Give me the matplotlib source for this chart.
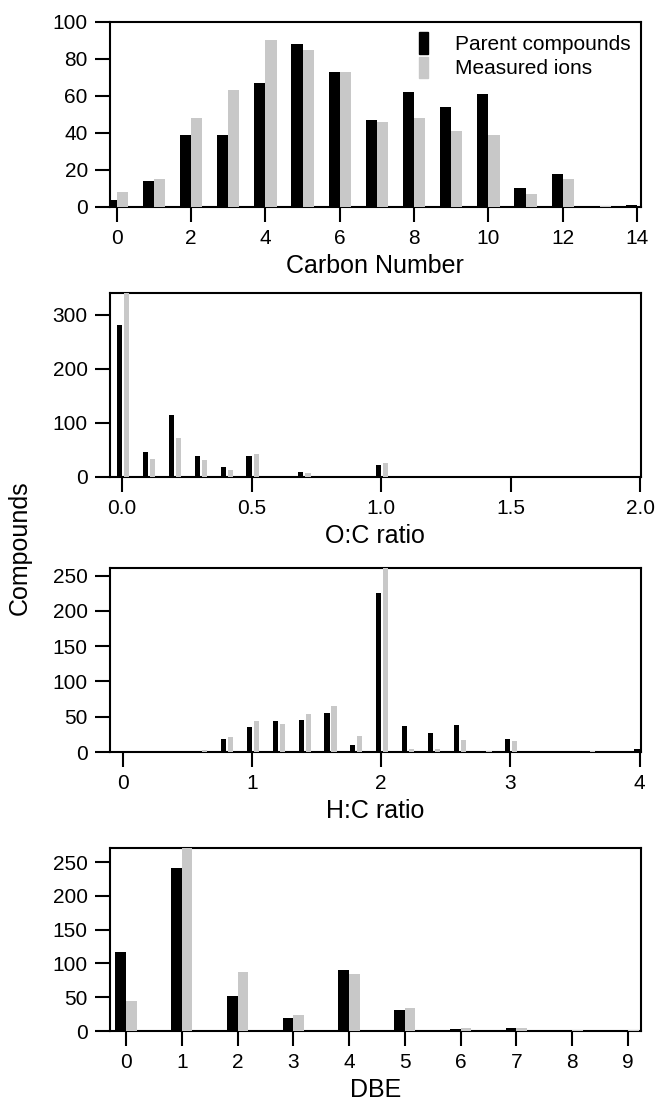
import matplotlib
matplotlib.use("Agg")
import matplotlib.pyplot as plt
from matplotlib.patches import Rectangle

plt.rcParams['font.family'] = ['Liberation Sans', 'DejaVu Sans']

# carbon number distribution
carbon_n = [0, 1, 2, 3, 4, 5, 6, 7, 8, 9, 10, 11, 12, 13, 14]
carbon_parent = [4, 14, 39, 39, 67, 88, 73, 47, 62, 54, 61, 10, 18, 0, 1]
carbon_ions = [8, 15, 48, 63, 90, 85, 73, 46, 48, 41, 39, 7, 15, 0.5, 0]

# O:C ratio
oc_bins = [0.0, 0.1, 0.2, 0.3, 0.4, 0.5, 0.6, 0.7, 0.8, 0.9, 1.0,
           1.1, 1.2, 1.3, 1.4, 1.5, 1.6, 1.7, 1.8, 1.9, 2.0]
oc_parent = [281, 46, 114, 39, 18, 38, 0, 9, 0, 0, 22, 0, 0, 0, 0, 0, 0, 0, 0, 0, 2]
oc_ions = [370, 34, 72, 31, 12, 43, 0, 7, 0, 0, 26, 0, 0, 0, 0, 0, 0, 0, 0, 0, 3]

# H:C ratio
hc_bins = [0.0, 0.2, 0.4, 0.6, 0.8, 1.0, 1.2, 1.4, 1.6, 1.8, 2.0,
           2.2, 2.4, 2.6, 2.8, 3.0, 3.2, 3.4, 3.6, 3.8, 4.0]
hc_parent = [0, 0, 0, 2, 18, 35, 44, 46, 56, 10, 225, 37, 27, 38, 1, 19, 0, 0, 0, 0, 4]
hc_ions = [0, 0, 0, 3, 21, 44, 40, 54, 65, 22, 300, 4, 4, 17, 1, 16, 0, 0, 1, 0, 0]

# double bond equivalents
dbe_n = [0, 1, 2, 3, 4, 5, 6, 7, 8, 9]
dbe_parent = [117, 241, 52, 20, 90, 31, 2.5, 4, 1, 1]
dbe_ions = [44, 290, 88, 23, 85, 34, 4.5, 4, 1, 1]

BLACK = 'black'
GRAY = '#c8c8c8'
TICK_FS = 15
LABEL_FS = 18

fig = plt.figure(figsize=(6.57, 11.02), dpi=100)

left, width = 0.1674, 0.808
ax1 = fig.add_axes([left, 0.8122, width, 0.1679])
ax2 = fig.add_axes([left, 0.5672, width, 0.1670])
ax3 = fig.add_axes([left, 0.3176, width, 0.1670])
ax4 = fig.add_axes([left, 0.0644, width, 0.1662])


def style(ax):
    for s in ax.spines.values():
        s.set_linewidth(1.5)
    ax.tick_params(direction='out', length=11, width=1.5, labelsize=TICK_FS,
                   pad=5, top=False, right=False)


def pair(ax, x, a, b, w, off):
    xa = [v - w for v in x]
    xb = [v + off for v in x]
    ax.bar(xa, a, width=w, align='edge', color=BLACK, zorder=3)
    ax.bar(xb, b, width=w, align='edge', color=GRAY, zorder=3)


pair(ax1, carbon_n, carbon_parent, carbon_ions, 0.3, 0.0)
ax1.set_xlim(-0.18, 14.1)
ax1.set_ylim(0, 100)
ax1.set_xticks(range(0, 15, 2))
ax1.set_yticks(range(0, 101, 20))
ax1.set_xlabel('Carbon Number', fontsize=LABEL_FS, labelpad=4)
handles = [Rectangle((0, 0), 1, 1, color=BLACK), Rectangle((0, 0), 1, 1, color=GRAY)]
ax1.legend(handles, ['Parent compounds', 'Measured ions'], loc='upper right',
           frameon=False, fontsize=TICK_FS, handlelength=0.4, handleheight=1.2,
           handletextpad=1.3, labelspacing=0.12, borderaxespad=0.1)

pair(ax2, oc_bins, oc_parent, oc_ions, 0.02, 0.008)
ax2.set_xlim(-0.047, 2.003)
ax2.set_ylim(0, 340)
ax2.set_xticks([0, 0.5, 1.0, 1.5, 2.0])
ax2.set_xticklabels(['0.0', '0.5', '1.0', '1.5', '2.0'])
ax2.set_yticks([0, 100, 200, 300])
ax2.set_xlabel('O:C ratio', fontsize=LABEL_FS, labelpad=4)

pair(ax3, hc_bins, hc_parent, hc_ions, 0.04, 0.015)
ax3.set_xlim(-0.1, 4.01)
ax3.set_ylim(0, 261)
ax3.set_xticks([0, 1, 2, 3, 4])
ax3.set_yticks(range(0, 251, 50))
ax3.set_xlabel('H:C ratio', fontsize=LABEL_FS, labelpad=4)

pair(ax4, dbe_n, dbe_parent, dbe_ions, 0.19, 0.0)
ax4.set_xlim(-0.286, 9.23)
ax4.set_ylim(0, 271)
ax4.set_xticks(dbe_n)
ax4.set_yticks(range(0, 251, 50))
ax4.set_xlabel('DBE', fontsize=LABEL_FS, labelpad=4)

for ax in (ax1, ax2, ax3, ax4):
    style(ax)

fig.text(20 / 657, 0.503, 'Compounds', rotation=90, fontsize=LABEL_FS,
         ha='center', va='center')

fig.savefig('out.png', dpi=100)
